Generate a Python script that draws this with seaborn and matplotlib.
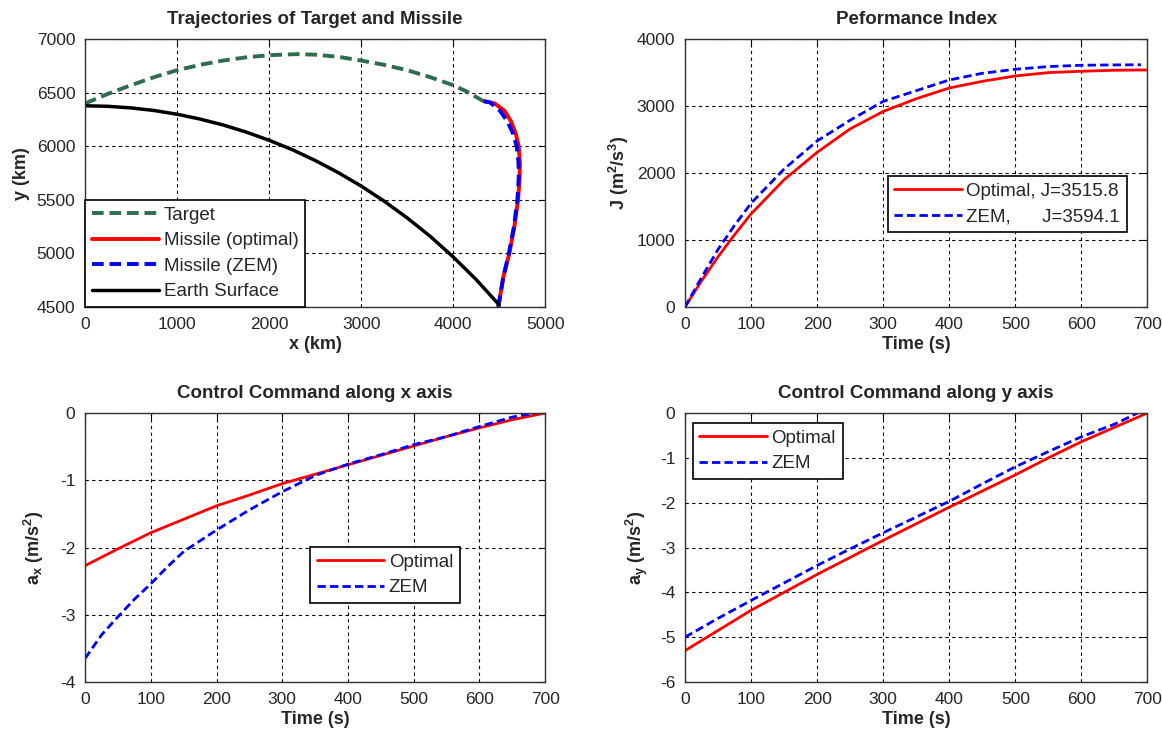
import numpy as np
import pandas as pd
import matplotlib
matplotlib.use("Agg")
import matplotlib.pyplot as plt
import seaborn as sns

# ---------------- data ----------------
target_x = [0, 250, 500, 750, 1000, 1250, 1500, 1750, 2000, 2300, 2500, 2750, 3000, 3250,
            3500, 3750, 4000, 4150, 4330]
target_y = [6400, 6490, 6570, 6645, 6710, 6760, 6800, 6830, 6850, 6860, 6855, 6835, 6800,
            6760, 6710, 6645, 6570, 6510, 6420]

earth_x = [0, 250, 500, 750, 1000, 1250, 1500, 1750, 2000, 2250, 2500, 2750, 3000, 3250,
           3500, 3750, 4000, 4250, 4500]
earth_y = [6378, 6373, 6358, 6334, 6299, 6254, 6199, 6133, 6056, 5969, 5868, 5755, 5629,
           5488, 5332, 5160, 4968, 4756, 4520]

mis_opt_x = [4490, 4545, 4610, 4665, 4705, 4722, 4725, 4712, 4680, 4630, 4560, 4450, 4340]
mis_opt_y = [4500, 4780, 5000, 5250, 5500, 5700, 5850, 6000, 6120, 6230, 6330, 6400, 6420]
mis_zem_x = [4490, 4545, 4605, 4660, 4698, 4712, 4710, 4690, 4650, 4590, 4510, 4400, 4300]
mis_zem_y = [4500, 4780, 5000, 5250, 5500, 5700, 5850, 6000, 6120, 6230, 6330, 6410, 6425]

t_opt = [0, 25, 50, 75, 100, 150, 200, 250, 300, 350, 400, 450, 500, 550, 600, 650, 700]
J_opt = [0, 390, 750, 1080, 1390, 1900, 2310, 2660, 2920, 3110, 3270, 3370, 3450, 3500, 3520, 3535, 3540]
t_zem = [0, 25, 50, 75, 100, 150, 200, 250, 300, 350, 400, 450, 500, 550, 600, 650, 690]
J_zem = [0, 440, 860, 1220, 1550, 2060, 2480, 2790, 3070, 3230, 3390, 3490, 3550, 3590, 3610, 3615, 3617]

tc_opt = [0, 50, 100, 150, 200, 250, 300, 350, 400, 450, 500, 550, 600, 650, 700]
ax_opt = [-2.27, -2.02, -1.78, -1.58, -1.38, -1.22, -1.05, -0.91, -0.77, -0.63, -0.49, -0.35, -0.22, -0.10, 0.0]
tc_zem = [0, 25, 50, 75, 100, 125, 150, 200, 250, 300, 350, 400, 450, 500, 550, 600, 650, 685]
ax_zem = [-3.65, -3.30, -3.03, -2.77, -2.54, -2.29, -2.06, -1.74, -1.44, -1.17, -0.93, -0.76,
          -0.62, -0.47, -0.35, -0.20, -0.06, 0.0]

ay_opt = [-5.30, -4.85, -4.40, -4.00, -3.60, -3.22, -2.84, -2.47, -2.10, -1.74, -1.38, -1.00, -0.64, -0.32, 0.0]
tcy_zem = [0, 50, 100, 150, 200, 250, 300, 350, 400, 450, 500, 550, 600, 650, 685]
ay_zem = [-5.00, -4.58, -4.18, -3.79, -3.40, -3.03, -2.67, -2.32, -1.97, -1.58, -1.20, -0.86, -0.53, -0.25, 0.0]

# ---------------- style ----------------
sns.set_style("white")
plt.rcParams["font.family"] = ["Liberation Sans", "DejaVu Sans"]
plt.rcParams["axes.unicode_minus"] = False
plt.rcParams["mathtext.fontset"] = "custom"
plt.rcParams["mathtext.rm"] = "Liberation Sans:bold"
plt.rcParams["mathtext.it"] = "Liberation Sans:bold"
plt.rcParams["mathtext.bf"] = "Liberation Sans:bold"
plt.rcParams["mathtext.default"] = "bf"

fig = plt.figure(figsize=(11.62, 7.34), dpi=100)
ax1 = fig.add_axes([0.0732, 0.5817, 0.396, 0.365])
ax2 = fig.add_axes([0.5895, 0.5817, 0.398, 0.365])
ax3 = fig.add_axes([0.0732, 0.0708, 0.396, 0.3665])
ax4 = fig.add_axes([0.5895, 0.0708, 0.398, 0.3665])

RED = "#ff0000"
BLUE = "#0000ff"
GREEN = "#2e6e4e"
TFS = 13.5
LFS = 13
KFS = 12.5
DASH = (0, (3, 1.5))

def style(ax):
    ax.grid(True, color="black", linestyle=(0, (3, 3)), linewidth=0.8)
    ax.tick_params(direction="in", length=4, pad=7, labelsize=KFS, top=True, right=True,
                   colors="black", labelcolor="#262626")
    for s in ax.spines.values():
        s.set_color("#333333")
        s.set_linewidth(1.0)
        s.set_visible(True)
    ax.set_axisbelow(True)

def legend(ax, **kw):
    lg = ax.legend(fontsize=13.5, fancybox=False, framealpha=1, edgecolor="black",
                   handlelength=3.6, borderpad=0.35, labelspacing=0.45,
                   handletextpad=0.25, **kw)
    lg.get_frame().set_linewidth(1.2)
    return lg

def labels(ax, title, xl, yl, ylpad):
    ax.set_title(title, fontsize=TFS, fontweight="bold", pad=11)
    ax.set_xlabel(xl, fontsize=LFS, fontweight="bold", labelpad=3)
    ax.set_ylabel(yl, fontsize=LFS, fontweight="bold", labelpad=ylpad)

# ---- subplot 1 ----
df_t = pd.DataFrame({"x": target_x, "y": target_y})
df_e = pd.DataFrame({"x": earth_x, "y": earth_y})
df_mo = pd.DataFrame({"x": mis_opt_x, "y": mis_opt_y})
df_mz = pd.DataFrame({"x": mis_zem_x, "y": mis_zem_y})
sns.lineplot(data=df_t, x="x", y="y", ax=ax1, sort=False, estimator=None, color=GREEN,
             linewidth=2.8, linestyle=DASH, label="Target")
sns.lineplot(data=df_mo, x="x", y="y", ax=ax1, sort=False, estimator=None, color=RED,
             linewidth=2.8, label="Missile (optimal)")
sns.lineplot(data=df_mz, x="x", y="y", ax=ax1, sort=False, estimator=None, color=BLUE,
             linewidth=2.8, linestyle=DASH, label="Missile (ZEM)")
sns.lineplot(data=df_e, x="x", y="y", ax=ax1, sort=False, estimator=None, color="black",
             linewidth=2.5, label="Earth Surface")
ax1.set_xlim(0, 5000)
ax1.set_ylim(4500, 7000)
ax1.set_xticks(np.arange(0, 5001, 1000))
ax1.set_yticks(np.arange(4500, 7001, 500))
labels(ax1, "Trajectories of Target and Missile", "x (km)", "y (km)", 5)
style(ax1)
legend(ax1, loc="lower left", bbox_to_anchor=(0.0, 0.0), borderaxespad=0.0)

# ---- subplot 2 ----
sns.lineplot(x=t_opt, y=J_opt, ax=ax2, color=RED, linewidth=2, label="Optimal, J=3515.8")
sns.lineplot(x=t_zem, y=J_zem, ax=ax2, color=BLUE, linewidth=2, linestyle=DASH,
             label="ZEM,      J=3594.1")
ax2.set_xlim(0, 700)
ax2.set_ylim(0, 4000)
ax2.set_xticks(np.arange(0, 701, 100))
ax2.set_yticks(np.arange(0, 4001, 1000))
labels(ax2, "Peformance Index", "Time (s)", "J (m$^2$/s$^3$)", 4)
style(ax2)
legend(ax2, loc="upper left", bbox_to_anchor=(0.438, 0.489), borderaxespad=0.0)

# ---- subplot 3 ----
sns.lineplot(x=tc_opt, y=ax_opt, ax=ax3, color=RED, linewidth=2, label="Optimal")
sns.lineplot(x=tc_zem, y=ax_zem, ax=ax3, color=BLUE, linewidth=2, linestyle=DASH,
             label="ZEM")
ax3.set_xlim(0, 700)
ax3.set_ylim(-4, 0)
ax3.set_xticks(np.arange(0, 701, 100))
ax3.set_yticks(np.arange(-4, 0.1, 1))
labels(ax3, "Control Command along x axis", "Time (s)", "a$_x$ (m/s$^2$)", 10)
style(ax3)
legend(ax3, loc="upper left", bbox_to_anchor=(0.489, 0.502), borderaxespad=0.0)

# ---- subplot 4 ----
sns.lineplot(x=tc_opt, y=ay_opt, ax=ax4, color=RED, linewidth=2, label="Optimal")
sns.lineplot(x=tcy_zem, y=ay_zem, ax=ax4, color=BLUE, linewidth=2, linestyle=DASH,
             label="ZEM")
ax4.set_xlim(0, 700)
ax4.set_ylim(-6, 0)
ax4.set_xticks(np.arange(0, 701, 100))
ax4.set_yticks(np.arange(-6, 0.1, 1))
labels(ax4, "Control Command along y axis", "Time (s)", "a$_y$ (m/s$^2$)", 7)
style(ax4)
legend(ax4, loc="upper left", bbox_to_anchor=(0.017, 0.963), borderaxespad=0.0)

fig.savefig("out.png", dpi=100, facecolor="white")
